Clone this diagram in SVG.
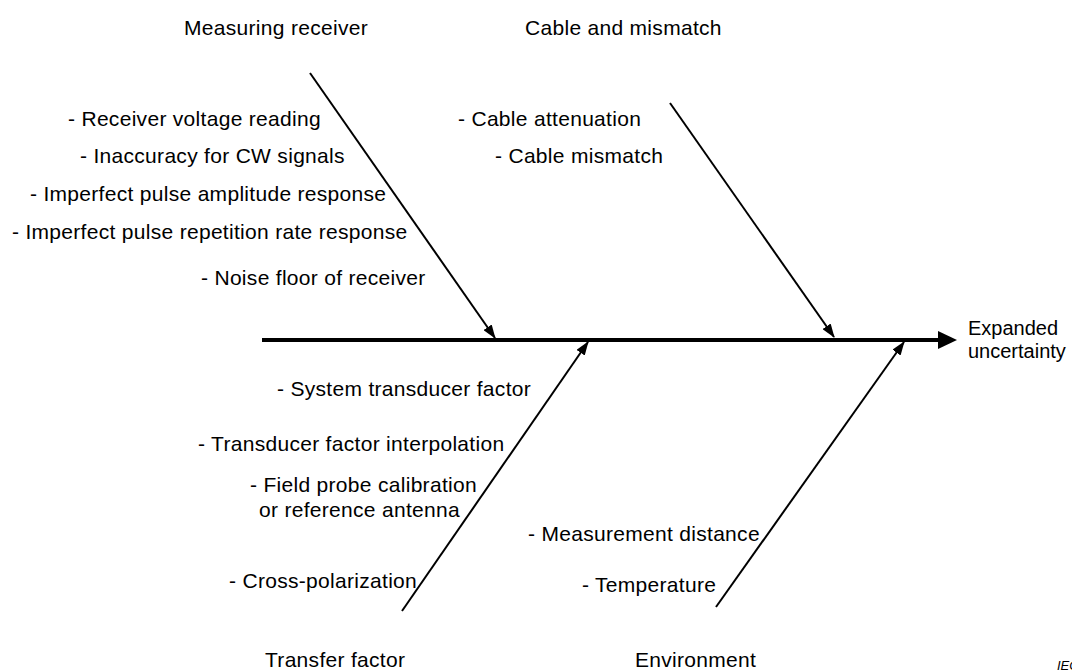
<svg xmlns="http://www.w3.org/2000/svg" width="1072" height="671" viewBox="0 0 1072 671">
<style>
text{font-family:"Liberation Sans",Arial,sans-serif;font-size:21px;letter-spacing:0.3px;fill:#000}
.eu{font-size:20px;letter-spacing:0}
.br{stroke:#000;stroke-width:2;fill:none}
.iec{font-style:italic;font-size:13px;letter-spacing:0}
</style>
<defs>
<marker id="ah" markerUnits="userSpaceOnUse" markerWidth="14" markerHeight="10" refX="13" refY="5" orient="auto">
<path d="M0,0 L14,5 L0,10 z" fill="#000"/>
</marker>
</defs>
<rect width="1072" height="671" fill="#fff"/>
<g id="connectors">
<line x1="262" y1="340" x2="942" y2="340" stroke="#000" stroke-width="4"/>
<path d="M938,331 L957,340 L938,349 z" fill="#000"/>
<line class="br" x1="310" y1="73" x2="495" y2="338" marker-end="url(#ah)"/>
<line class="br" x1="670" y1="103" x2="834" y2="337" marker-end="url(#ah)"/>
<line class="br" x1="402" y1="611" x2="588" y2="342" marker-end="url(#ah)"/>
<line class="br" x1="716" y1="607" x2="904" y2="342" marker-end="url(#ah)"/>
</g>
<g id="measuring-receiver">
<text x="184" y="35">Measuring receiver</text>
<text x="68" y="126">- Receiver voltage reading</text>
<text x="80" y="163">- Inaccuracy for CW signals</text>
<text x="30" y="201">- Imperfect pulse amplitude response</text>
<text x="12" y="239">- Imperfect pulse repetition rate response</text>
<text x="201" y="285">- Noise floor of receiver</text>
</g>
<g id="cable-mismatch">
<text x="525" y="35">Cable and mismatch</text>
<text x="458" y="126">- Cable attenuation</text>
<text x="495" y="163">- Cable mismatch</text>
</g>
<g id="expanded-uncertainty">
<text class="eu" x="968" y="335">Expanded</text>
<text class="eu" x="968" y="358">uncertainty</text>
</g>
<g id="transfer-factor">
<text x="277" y="396">- System transducer factor</text>
<text x="198" y="451">- Transducer factor interpolation</text>
<text x="250" y="492">- Field probe calibration</text>
<text x="259" y="517">or reference antenna</text>
<text x="229" y="588">- Cross-polarization</text>
<text x="265" y="667">Transfer factor</text>
</g>
<g id="environment">
<text x="528" y="541">- Measurement distance</text>
<text x="582" y="592">- Temperature</text>
<text x="635" y="667">Environment</text>
</g>
<text class="iec" x="1057" y="670">IEC</text>
</svg>
